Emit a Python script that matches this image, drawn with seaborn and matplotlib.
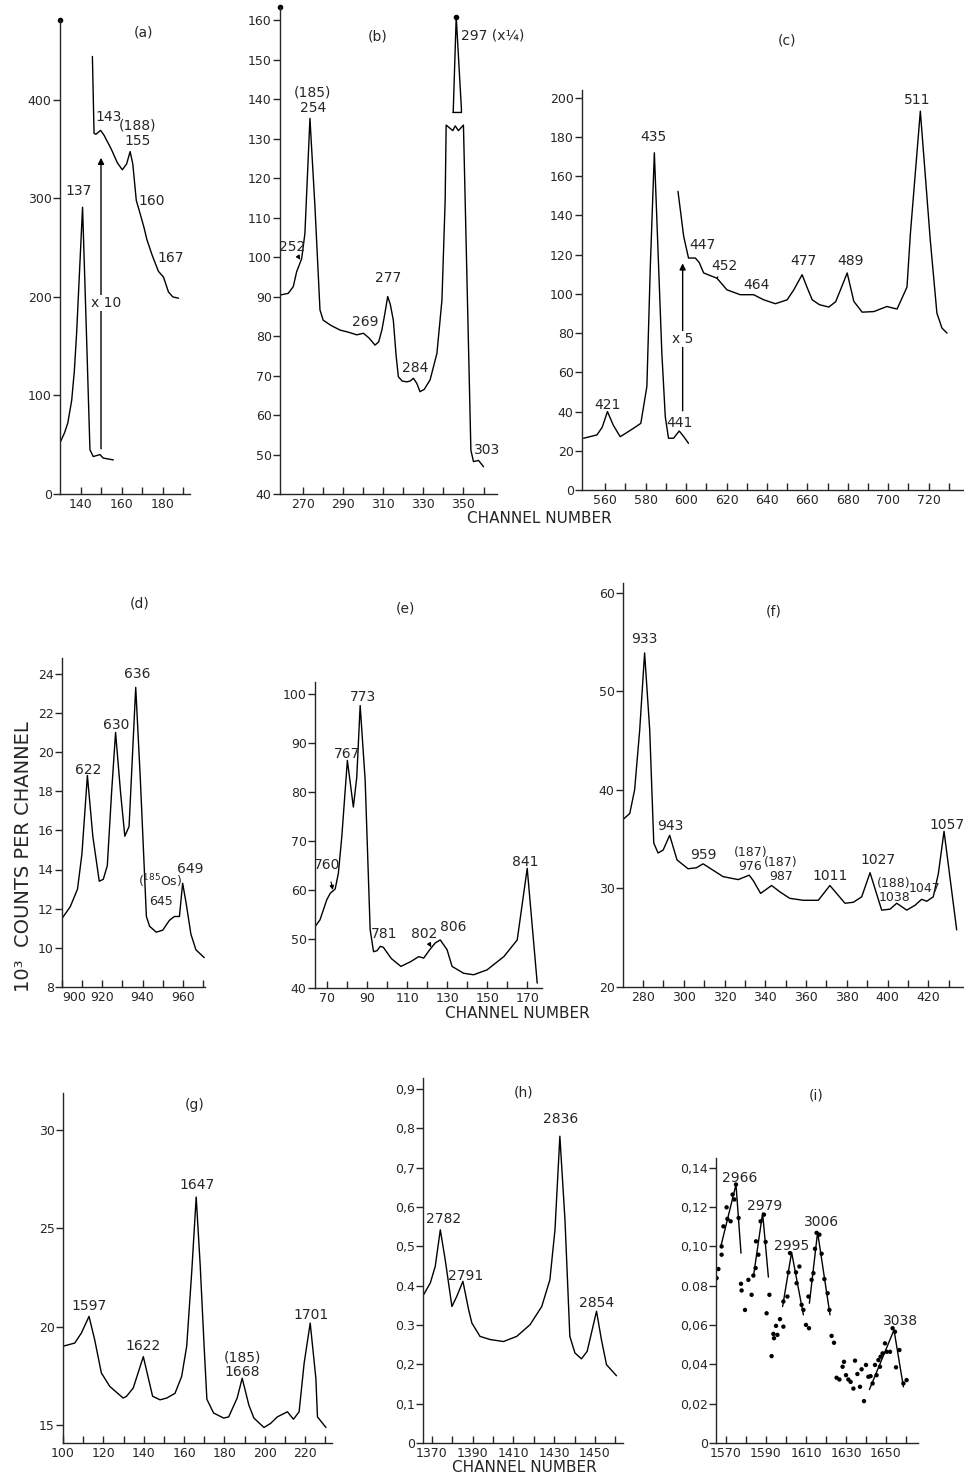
import numpy as np
import matplotlib
matplotlib.use("Agg")
import matplotlib.pyplot as plt
import seaborn as sns

# ---- data ----
# (a)
a_low_x = [130, 132.2, 133.8, 135.7, 137, 138.1, 139.8, 141, 142.9, 144.6, 146.2, 149.5, 151, 156]
a_low_y = [52, 62, 72, 95, 125, 163, 238, 291, 163, 45, 38, 40, 36.5, 34.6]
a_high_x = [145.8, 146.6, 147.5, 149.8, 151.5, 155, 158, 160.4, 162.5, 164.2, 165.5, 167.2, 169,
            170.9, 172.4, 175, 178, 180.5, 182.9, 185, 187.8]
a_high_y = [444, 366, 365, 369, 364, 350, 336, 329, 335, 347.5, 335, 298, 285, 271, 258, 242,
            226, 220, 205, 200, 198.7]
a_labels = ["137", "143", "(188)\n155", "160", "167"]

# (b)
b_x = [259, 262.8, 265.3, 267, 269.5, 271.1, 273.6, 276.1, 278.6, 280.2, 284, 288.6, 292.5, 296.9,
       300.2, 303, 306, 307.8, 309.4, 311, 312.3, 313.6, 315.1, 316.5, 317.6, 319.5, 321.8, 323.5,
       325.1, 326.8, 328.4, 330.5, 333.4, 336.8, 339.3, 340.9, 341.4, 344.7, 345.9, 347.5, 350,
       353.7, 355, 357.5, 360]
b_y = [90.4, 90.8, 92.5, 96.3, 99.6, 106, 135.1, 112.7, 86.6, 84, 82.7, 81.5, 81, 80.3, 80.7,
       79.5, 77.7, 78.5, 81.5, 86, 90, 88, 84, 75, 69.7, 68.6, 68.4, 68.6, 69.3, 68, 65.9, 66.5,
       68.9, 75.6, 89.1, 114.4, 133.4, 132.0, 133.2, 132.0, 133.4, 51.1, 48.2, 48.5, 46.9]
b_top_x = [344.9, 346.4, 349.0, 349.0, 344.9, 344.9]
b_top_y = [136.6, 160.8, 137.4, 136.6, 136.6, 136.6]
b_labels = ["(185)\n254", "252", "269", "277", "284", "297 (x¼)", "303"]

# (c)
c_low_x = [549.3, 555.9, 558.5, 561.1, 564, 567.4, 571, 574, 577.6, 580.6, 582.3, 584.3, 586.4,
           588, 589.7, 591.3, 593.8, 596.6, 599, 601.2]
c_low_y = [26.4, 28.1, 32, 40, 33, 27.2, 29.5, 31.5, 34, 52.8, 114, 172, 114, 70, 37.4, 26.4,
           26.4, 30.1, 27, 23.8]
c_high_x = [596, 598.8, 601.2, 604.6, 606.5, 608.7, 612.8, 615.3, 620.2, 626.8, 633.4, 638.4,
            644.2, 650, 653.3, 657.4, 660, 662.4, 666, 670.6, 674, 676.4, 679.7, 683, 687.1,
            692.9, 699.4, 701.9, 704.4, 709.3, 711, 715.9, 720.8, 724.1, 726.6, 729.1]
c_high_y = [152.3, 129.4, 118.3, 118.3, 116, 110.7, 109, 108, 102.1, 99.6, 99.6, 97, 95, 97,
            102.1, 109.8, 103, 97, 94.5, 93.3, 96, 102.1, 110.7, 96.2, 90.7, 91, 93.6, 92.9,
            92.3, 103.5, 131, 193.2, 127.7, 90.2, 82.6, 80]
c_labels = ["421", "435", "441", "447", "452", "464", "477", "489", "511"]

# (d)
d_x = [900, 904.1, 907.7, 909.9, 912.6, 915.3, 918.5, 920.5, 922.5, 924.6, 926.6, 929.1, 931.2,
       933.3, 936.6, 938.9, 941.9, 943.5, 946.8, 950, 953.3, 955.8, 958.3, 959.9, 961.6, 964,
       966.5, 970.6]
d_y = [11.5, 12.1, 13.0, 14.8, 18.8, 15.7, 13.4, 13.5, 14.2, 17.9, 21.0, 17.9, 15.7, 16.2, 23.3,
       18.6, 11.6, 11.1, 10.8, 10.9, 11.4, 11.6, 11.6, 13.3, 12.3, 10.7, 9.9, 9.5]
d_labels = ["622", "630", "636", "($^{185}$Os)", "645", "649"]

# (e)
e_x = [63.8, 66.3, 69.7, 71.4, 73.9, 75.5, 77.2, 80, 83, 84.7, 86.4, 88.9, 91.4, 93.1, 94.8,
       96.5, 98, 102, 106.8, 111.8, 115.7, 118.2, 121.2, 124, 126.5, 129.9, 132.4, 138.2, 143.2,
       149.9, 158.3, 165, 170, 175]
e_y = [52.5, 53.9, 58, 59.3, 60.2, 63.4, 70.8, 86.4, 76.9, 83, 97.6, 82.4, 51.9, 47.4, 47.6,
       48.5, 48.3, 46, 44.4, 45.4, 46.4, 46.1, 47.8, 49.2, 49.8, 47.8, 44.4, 43, 42.7, 43.7,
       46.4, 49.8, 64.4, 41]
e_labels = ["760", "767", "773", "781", "802", "806", "841"]

# (f)
f_x = [270.2, 273.5, 275.9, 278.4, 280.8, 283.3, 285.3, 287.4, 289.9, 293.1, 296.7, 302.1,
       306.2, 309.5, 319.3, 326.7, 332.1, 334.1, 337.7, 343.1, 347.2, 352, 358.6, 366, 371.7,
       379.1, 383.2, 387.3, 391.4, 397.1, 401.2, 404.5, 409.4, 413.5, 416.7, 419.2, 422.4,
       424.9, 427.7, 433.9]
f_y = [37, 37.6, 40, 46.1, 53.9, 46.1, 34.6, 33.6, 33.9, 35.4, 32.9, 32, 32.1, 32.5, 31.2, 30.9,
       31.35, 30.8, 29.5, 30.3, 29.65, 29, 28.8, 28.8, 30.3, 28.5, 28.6, 29.15, 31.6, 27.8, 27.9,
       28.5, 27.8, 28.3, 28.9, 28.7, 29.15, 31.5, 35.8, 25.8]
f_labels = ["933", "943", "959", "(187)\n976", "(187)\n987", "1011", "1027", "(188)\n1038",
            "1047", "1057"]

# (g)
g_x = [100, 105.8, 109.1, 112.9, 115.7, 119, 123.2, 129.8, 131.5, 134.8, 139.8, 144.4, 148.1,
       151.4, 155.5, 158.8, 161.3, 163.8, 166, 168, 170, 171.3, 174.6, 179.6, 182.1, 186.3,
       188.8, 192.1, 194.6, 199.6, 202.9, 206.2, 211.2, 214.2, 217, 219.5, 222.5, 225.3, 226.1,
       230.3]
g_y = [19, 19.16, 19.67, 20.52, 19.33, 17.64, 16.95, 16.36, 16.45, 16.87, 18.47, 16.45, 16.27,
       16.36, 16.6, 17.46, 19, 22.8, 26.6, 23.1, 18.85, 16.3, 15.6, 15.34, 15.4, 16.36, 17.37,
       16, 15.34, 14.86, 15.07, 15.4, 15.66, 15.28, 15.66, 18.14, 20.18, 17.37, 15.4, 14.86]
g_labels = ["1597", "1622", "1647", "(185)\n1668", "1701"]

# (h)
h_x = [1365.9, 1369.2, 1371.6, 1374.1, 1376.5, 1379.8, 1382.2, 1385.2, 1388, 1389.6, 1393.6,
       1398.6, 1405.1, 1411.6, 1418.2, 1423.9, 1427.9, 1430.4, 1432.8, 1435.3, 1437.7, 1440.2,
       1443.4, 1446.2, 1450.8, 1453.2, 1455.7, 1460.6]
h_y = [0.377, 0.407, 0.449, 0.542, 0.466, 0.347, 0.373, 0.411, 0.339, 0.305, 0.271, 0.263,
       0.258, 0.271, 0.301, 0.347, 0.415, 0.542, 0.78, 0.568, 0.271, 0.229, 0.214, 0.233,
       0.335, 0.263, 0.199, 0.171]
h_labels = ["2782", "2791", "2836", "2854"]

# (i) measured points and hand-drawn peak fits
i_x = [1565.3, 1566.2, 1567.8, 1567.8, 1568.7, 1570.3, 1570.7, 1572.3, 1573.3, 1574.2, 1575,
       1576.3, 1577.5, 1577.8, 1579.5, 1581.2, 1582.8, 1583.7, 1584.8, 1585, 1586.2, 1587.3,
       1589, 1589.8, 1590.3, 1591.7, 1592.8, 1593.7, 1594, 1595, 1595.7, 1597, 1598.7, 1598.7,
       1600.7, 1601.2, 1602, 1605, 1605.3, 1606.7, 1607.8, 1608.7, 1610, 1611.5, 1611.2,
       1612.8, 1613.7, 1614.5, 1615.3, 1616.7, 1617.8, 1619.2, 1620.8, 1621.7, 1622.8, 1624,
       1625.3, 1626.7, 1628.3, 1629, 1630, 1631.2, 1632.3, 1633.7, 1634.5, 1635.7, 1637,
       1637.8, 1639, 1640, 1641.2, 1642.3, 1643.3, 1644.5, 1645.3, 1646.2, 1647, 1647.3,
       1648.3, 1649.5, 1650.3, 1652, 1653.3, 1654.5, 1655, 1656.7, 1658.7, 1660.3]
i_y = [0.0839, 0.0885, 0.0958, 0.1000, 0.1102, 0.1199, 0.1140, 0.1128, 0.1264, 0.1239, 0.1315,
       0.1145, 0.0810, 0.0776, 0.0677, 0.0830, 0.0754, 0.0852, 0.0890, 0.1026, 0.0958, 0.1128,
       0.1162, 0.1023, 0.0660, 0.0754, 0.0442, 0.0555, 0.0533, 0.0596, 0.0550, 0.0630, 0.0592,
       0.0720, 0.0745, 0.0868, 0.0966, 0.0868, 0.0813, 0.0898, 0.0703, 0.0677, 0.0601, 0.0584,
       0.0745, 0.0830, 0.0864, 0.0988, 0.1069, 0.1060, 0.0963, 0.0834, 0.0762, 0.0677, 0.0545,
       0.0510, 0.0332, 0.0323, 0.0388, 0.0413, 0.0345, 0.0323, 0.0311, 0.0277, 0.0419, 0.0351,
       0.0286, 0.0375, 0.0213, 0.0397, 0.0337, 0.0340, 0.0303, 0.0397, 0.0345, 0.0422, 0.0388,
       0.0439, 0.0456, 0.0507, 0.0464, 0.0464, 0.0584, 0.0566, 0.0385, 0.0473, 0.0303, 0.0320]
i_fit_x = [[1567.5, 1575, 1577.5], [1583.7, 1588.3, 1591.2], [1598.3, 1602.8, 1608.7],
           [1611.7, 1615.8, 1622], [1641.7, 1654, 1658.7]]
i_fit_y = [[0.1004, 0.1315, 0.0966], [0.0845, 0.1170, 0.0844], [0.0694, 0.0970, 0.0652],
           [0.0711, 0.1072, 0.0652], [0.0272, 0.0575, 0.0286]]
i_labels = ["2966", "2979", "2995", "3006", "3038"]

sns.set_style("ticks")
plt.rcParams['font.family'] = ['DejaVu Sans']
plt.rcParams['axes.linewidth'] = 1.0

fig = plt.figure(figsize=(9.64, 14.77), dpi=100)
W, H = 964, 1477


def box(l, r, t, b):
    return [l / W, 1 - b / H, (r - l) / W, (b - t) / H]


def style(ax, xlim, ylim, xt, xl, yt, yl):
    ax.set_xlim(xlim)
    ax.set_ylim(ylim)
    ax.set_xticks(xt)
    ax.set_xticklabels(xl)
    ax.set_yticks(yt)
    ax.set_yticklabels(yl)
    ax.set(xlabel='', ylabel='')
    sns.despine(ax=ax)
    ax.tick_params(axis='x', direction='in', length=5, width=1, pad=3, labelsize=9)
    ax.tick_params(axis='y', direction='out', length=5, width=1, pad=1, labelsize=9)


def line(ax, x, y):
    sns.lineplot(x=x, y=y, ax=ax, color='k', lw=1.0, sort=False, estimator=None)


def put(ax, labels, pos, size=10):
    for t, (x, y) in zip(labels, pos):
        ax.text(x, y, t, ha='center', va='center', fontsize=size, linespacing=1.1)


def every(lo, hi, step, show):
    ticks = list(np.arange(lo, hi + step / 2, step))
    labs = [(f"{t:g}" if t in show else "") for t in ticks]
    return ticks, labs


# ---- (a) ----
ax = fig.add_axes(box(60, 190, 20, 494))
line(ax, a_low_x, a_low_y)
line(ax, a_high_x, a_high_y)
xt, xl = every(140, 190, 10, [140, 160, 180])
style(ax, (130, 193.4), (0, 481), xt, xl, [0, 100, 200, 300, 400], ["0", "100", "200", "300", "400"])
ax.annotate('', xy=(150, 344), xytext=(150, 43),
            arrowprops=dict(arrowstyle='-|>', color='k', lw=1, mutation_scale=9))
ax.text(152.3, 194, "x 10", ha='center', va='center', fontsize=10,
        bbox=dict(fc='white', ec='none', pad=0.5))
put(ax, a_labels, [(138.9, 307), (153.6, 383), (167.9, 366), (174.7, 297), (184, 239)])
ax.text(170.5, 468, "(a)", ha='center', va='center', fontsize=10)
ax.plot([0], [1], 'ko', ms=3, transform=ax.transAxes, clip_on=False)

# ---- (b) ----
ax = fig.add_axes(box(280, 497, 7, 494))
line(ax, b_x, b_y)
line(ax, b_top_x, b_top_y)
ax.plot([346.4], [160.8], 'ko', ms=3, clip_on=False)
xt, xl = every(270, 360, 10, [270, 290, 310, 330, 350])
yt = list(range(40, 161, 10))
style(ax, (258.7, 366.7), (40, 163.3), xt, xl, yt, [str(v) for v in yt])
put(ax, [b_labels[0], b_labels[2], b_labels[3], b_labels[4], b_labels[6]],
    [(275, 139.7), (301, 83.6), (312.7, 94.6), (326, 71.8), (361.7, 51.1)])
ax.annotate(b_labels[1], xy=(268.8, 99.3), xytext=(264.5, 102.6), ha='center', va='center',
            fontsize=10, arrowprops=dict(arrowstyle='-|>', color='k', lw=0.8, mutation_scale=6,
                                         shrinkA=4, shrinkB=0))
ax.text(348.6, 156, b_labels[5], ha='left', va='center', fontsize=10)
ax.text(307.5, 155.8, "(b)", ha='center', va='center', fontsize=10)
ax.plot([0], [1], 'ko', ms=3, transform=ax.transAxes, clip_on=False)

# ---- (c) ----
ax = fig.add_axes(box(582, 965, 90, 490))
line(ax, c_low_x, c_low_y)
line(ax, c_high_x, c_high_y)
xt, xl = every(560, 730, 10, list(range(560, 721, 20)))
yt = list(range(0, 201, 20))
style(ax, (548.5, 738), (0, 204), xt, xl, yt, [str(v) for v in yt])
ax.annotate('', xy=(598.3, 117), xytext=(598.3, 39),
            arrowprops=dict(arrowstyle='-|>', color='k', lw=1, mutation_scale=9))
ax.text(598.3, 77, "x 5", ha='center', va='center', fontsize=10,
        bbox=dict(fc='white', ec='none', pad=1))
put(ax, [c_labels[i] for i in (0, 1, 2, 3, 5, 6, 7, 8)],
    [(561.1, 43.4), (584, 180), (596.7, 34), (607.9, 125), (634.8, 104.7), (658.2, 116.6),
     (681.3, 116.6), (714.3, 199)])
ax.annotate(c_labels[4], xy=(615.3, 108), xytext=(618.9, 114), ha='center', va='center',
            fontsize=10, arrowprops=dict(arrowstyle='-', color='k', lw=0.8, shrinkA=5, shrinkB=0))
ax.text(650, 229, "(c)", ha='center', va='center', fontsize=10)

fig.text(539 / W, 1 - 518 / H, "CHANNEL NUMBER", ha='center', va='center', fontsize=11)

# ---- (d) ----
ax = fig.add_axes(box(62, 205, 658, 987))
line(ax, d_x, d_y)
xt, xl = every(900, 970, 10, [900, 920, 940, 960])
yt = list(range(8, 25, 2))
style(ax, (900, 971), (8, 24.8), xt, xl, yt, [str(v) for v in yt])
ax.get_xticklabels()[0].set_ha('left')
put(ax, d_labels[:3], [(913, 19.1), (927, 21.4), (937.2, 24.0)])
put(ax, d_labels[3:5], [(948.8, 13.4), (949.3, 12.35)], size=9)
put(ax, d_labels[5:], [(963.6, 14.05)])
ax.text(938.6, 27.6, "(d)", ha='center', va='center', fontsize=10)

fig.text(24 / W, 1 - 857 / H, "10³  COUNTS PER CHANNEL", rotation=90, ha='center',
         va='center', fontsize=14)

# ---- (e) ----
ax = fig.add_axes(box(315, 542, 682, 988))
line(ax, e_x, e_y)
xt, xl = every(70, 170, 10, list(range(70, 171, 20)))
yt = list(range(40, 101, 10))
style(ax, (63.8, 177.4), (40, 102.4), xt, xl, yt, [str(v) for v in yt])
put(ax, [e_labels[i] for i in (1, 2, 3, 5, 6)],
    [(80, 87.8), (87.7, 99.3), (98.5, 51), (132.9, 52.5), (169.2, 65.7)])
ax.annotate(e_labels[0], xy=(72.7, 60), xytext=(70, 65.1), ha='center', va='center',
            fontsize=10, arrowprops=dict(arrowstyle='-|>', color='k', lw=0.8, mutation_scale=6,
                                         shrinkA=5, shrinkB=0))
ax.annotate(e_labels[4], xy=(122, 48.3), xytext=(118.2, 51), ha='center', va='center',
            fontsize=10, arrowprops=dict(arrowstyle='-|>', color='k', lw=0.8, mutation_scale=6,
                                         shrinkA=5, shrinkB=0))
ax.text(108.9, 117.3, "(e)", ha='center', va='center', fontsize=10)

fig.text(517 / W, 1 - 1013 / H, "CHANNEL NUMBER", ha='center', va='center', fontsize=11)

# ---- (f) ----
ax = fig.add_axes(box(623, 963, 583, 987))
line(ax, f_x, f_y)
xt, xl = every(280, 430, 10, list(range(280, 421, 20)))
style(ax, (270.2, 437), (20, 61), xt, xl, [20, 30, 40, 50, 60], ["20", "30", "40", "50", "60"])
put(ax, [f_labels[i] for i in (0, 1, 2, 5, 6, 9)],
    [(280.8, 55.3), (293.5, 36.3), (309.5, 33.4), (371.9, 31.3), (395.4, 32.9), (429, 36.4)])
put(ax, [f_labels[i] for i in (3, 4, 7, 8)],
    [(332.6, 32.9), (347.8, 31.9), (403.2, 29.8), (418.3, 30)], size=9)
ax.text(343.9, 58.1, "(f)", ha='center', va='center', fontsize=10)

# ---- (g) ----
ax = fig.add_axes(box(63, 332, 1093, 1443))
line(ax, g_x, g_y)
xt, xl = every(100, 230, 10, list(range(100, 221, 20)))
style(ax, (100, 233.3), (14.07, 31.9), xt, xl, [15, 20, 25, 30], ["15", "20", "25", "30"])
put(ax, g_labels, [(112.9, 21.05), (139.8, 19.0), (166.3, 27.2), (188.8, 18.06), (222.9, 20.6)])
ax.text(165.4, 31.3, "(g)", ha='center', va='center', fontsize=10)

# ---- (h) ----
ax = fig.add_axes(box(423, 623, 1078, 1443))
line(ax, h_x, h_y)
xt, xl = every(1370, 1460, 10, [1370, 1390, 1410, 1430, 1450])
yt = [0, 0.1, 0.2, 0.3, 0.4, 0.5, 0.6, 0.7, 0.8, 0.9]
style(ax, (1365.6, 1463.8), (0, 0.928), xt, xl, yt,
      ["0", "0,1", "0,2", "0.3", "0.4", "0,5", "0,6", "0,7", "0,8", "0,9"])
put(ax, h_labels, [(1375.7, 0.57), (1386.3, 0.425), (1433.3, 0.824), (1450.8, 0.357)])
ax.text(1414.9, 0.89, "(h)", ha='center', va='center', fontsize=10)

fig.text(524 / W, 1 - 1467 / H, "CHANNEL NUMBER", ha='center', va='center', fontsize=11)

# ---- (i) ----
ax = fig.add_axes(box(716, 918, 1158, 1443))
sns.scatterplot(x=i_x, y=i_y, ax=ax, color='k', s=10, edgecolor='none')
for fx, fy in zip(i_fit_x, i_fit_y):
    line(ax, fx, fy)
xt, xl = every(1570, 1660, 10, [1570, 1590, 1610, 1630, 1650])
yt = [0, 0.02, 0.04, 0.06, 0.08, 0.10, 0.12, 0.14]
style(ax, (1565, 1666), (0, 0.145), xt, xl, yt,
      ["0", "0,02", "0,04", "0,06", "0.08", "0,10", "0,12", "0,14"])
put(ax, i_labels, [(1576.7, 0.135), (1589.5, 0.1208), (1602.8, 0.100), (1617.8, 0.1123),
                   (1657, 0.0623)])
ax.text(1615.3, 0.177, "(i)", ha='center', va='center', fontsize=10)

fig.savefig("out.png", dpi=100)
